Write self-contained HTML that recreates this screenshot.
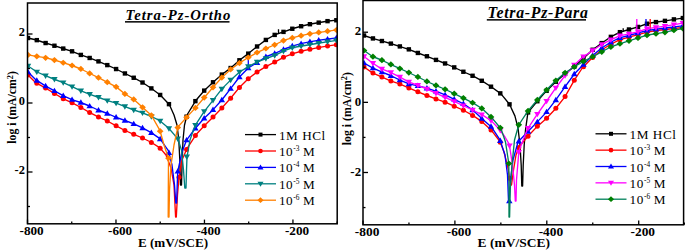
<!DOCTYPE html>
<html><head><meta charset="utf-8"><style>
html,body{margin:0;padding:0;background:#fff;}
body{width:685px;height:251px;overflow:hidden;font-family:"Liberation Serif",serif;}
svg{display:block;}
</style></head><body>
<svg width="685" height="251" viewBox="0 0 685 251">
<clipPath id="clipL"><rect x="27.5" y="3.0" width="309.7" height="220.8"/></clipPath>
<g clip-path="url(#clipL)">
<path d="M28.00 38.00 L36.40 40.00 L45.50 43.00 L54.30 45.70 L63.00 48.50 L72.00 51.30 L80.80 54.90 L89.50 57.90 L98.30 61.30 L107.30 65.10 L116.00 69.00 L125.00 73.50 L134.00 77.90 L142.50 82.50 L151.50 88.50 L160.20 95.00 L169.30 104.50 L174.00 115.00 L177.00 125.00 L178.80 140.00 L179.80 160.00 L180.50 185.00 L181.50 185.00 L182.20 160.00 L183.00 140.00 L184.50 125.00 L187.00 115.00 L195.60 100.80 L204.30 90.50 L213.30 82.00 L221.90 74.50 L230.80 67.90 L239.40 60.30 L248.30 53.60 L257.40 46.20 L266.30 39.60 L275.40 34.50 L284.40 31.60 L293.00 28.50 L302.00 26.00 L310.80 24.00 L319.50 22.50 L328.40 21.00 L337.00 20.20" fill="none" stroke="#000000" stroke-width="1.35" stroke-linejoin="round"/>
<path d="M278.5 33.2L278.5 29.3" stroke="#000000" stroke-width="1.3"/>
<rect x="25.80" y="35.80" width="4.40" height="4.40" fill="#000000"/>
<rect x="34.61" y="37.94" width="4.40" height="4.40" fill="#000000"/>
<rect x="43.42" y="40.84" width="4.40" height="4.40" fill="#000000"/>
<rect x="52.23" y="43.54" width="4.40" height="4.40" fill="#000000"/>
<rect x="61.04" y="46.37" width="4.40" height="4.40" fill="#000000"/>
<rect x="69.85" y="49.12" width="4.40" height="4.40" fill="#000000"/>
<rect x="78.66" y="52.72" width="4.40" height="4.40" fill="#000000"/>
<rect x="87.47" y="55.77" width="4.40" height="4.40" fill="#000000"/>
<rect x="96.28" y="59.18" width="4.40" height="4.40" fill="#000000"/>
<rect x="105.09" y="62.90" width="4.40" height="4.40" fill="#000000"/>
<rect x="113.90" y="66.85" width="4.40" height="4.40" fill="#000000"/>
<rect x="122.71" y="71.26" width="4.40" height="4.40" fill="#000000"/>
<rect x="131.52" y="75.56" width="4.40" height="4.40" fill="#000000"/>
<rect x="140.33" y="80.32" width="4.40" height="4.40" fill="#000000"/>
<rect x="149.14" y="86.19" width="4.40" height="4.40" fill="#000000"/>
<rect x="157.95" y="92.76" width="4.40" height="4.40" fill="#000000"/>
<rect x="166.76" y="101.95" width="4.40" height="4.40" fill="#000000"/>
<rect x="184.38" y="114.48" width="4.40" height="4.40" fill="#000000"/>
<rect x="193.19" y="98.95" width="4.40" height="4.40" fill="#000000"/>
<rect x="202.00" y="88.42" width="4.40" height="4.40" fill="#000000"/>
<rect x="210.81" y="80.07" width="4.40" height="4.40" fill="#000000"/>
<rect x="219.62" y="72.37" width="4.40" height="4.40" fill="#000000"/>
<rect x="228.43" y="65.83" width="4.40" height="4.40" fill="#000000"/>
<rect x="237.24" y="58.07" width="4.40" height="4.40" fill="#000000"/>
<rect x="246.05" y="51.44" width="4.40" height="4.40" fill="#000000"/>
<rect x="254.86" y="44.28" width="4.40" height="4.40" fill="#000000"/>
<rect x="263.67" y="37.72" width="4.40" height="4.40" fill="#000000"/>
<rect x="272.48" y="32.70" width="4.40" height="4.40" fill="#000000"/>
<rect x="281.29" y="29.69" width="4.40" height="4.40" fill="#000000"/>
<rect x="290.10" y="26.55" width="4.40" height="4.40" fill="#000000"/>
<rect x="298.91" y="24.05" width="4.40" height="4.40" fill="#000000"/>
<rect x="307.72" y="22.00" width="4.40" height="4.40" fill="#000000"/>
<rect x="316.53" y="20.43" width="4.40" height="4.40" fill="#000000"/>
<rect x="325.34" y="18.94" width="4.40" height="4.40" fill="#000000"/>
<rect x="334.15" y="18.06" width="4.40" height="4.40" fill="#000000"/>
<path d="M28.00 75.00 L36.00 82.90 L45.30 87.90 L54.50 93.50 L63.50 98.80 L72.20 102.90 L81.00 107.50 L89.40 112.30 L98.20 116.80 L107.30 121.00 L116.20 125.90 L125.00 130.50 L133.90 134.40 L142.50 138.00 L151.50 142.50 L159.90 147.90 L166.00 155.00 L171.00 168.00 L174.00 185.00 L175.60 217.00 L176.30 217.00 L177.50 195.00 L179.00 177.30 L182.00 160.00 L186.80 148.90 L195.90 134.80 L204.50 125.50 L213.40 116.70 L222.10 107.70 L231.00 97.80 L239.90 86.90 L248.50 78.50 L257.30 71.90 L265.80 66.60 L275.20 61.80 L284.40 56.80 L293.00 53.60 L302.00 51.00 L310.80 49.10 L319.50 47.30 L328.40 45.90 L337.00 44.60" fill="none" stroke="#ff0000" stroke-width="1.35" stroke-linejoin="round"/>
<circle cx="179.00" cy="177.30" r="2.50" fill="#ff0000"/>
<circle cx="28.00" cy="75.00" r="2.50" fill="#ff0000"/>
<circle cx="36.81" cy="83.34" r="2.50" fill="#ff0000"/>
<circle cx="45.62" cy="88.09" r="2.50" fill="#ff0000"/>
<circle cx="54.43" cy="93.46" r="2.50" fill="#ff0000"/>
<circle cx="63.24" cy="98.65" r="2.50" fill="#ff0000"/>
<circle cx="72.05" cy="102.83" r="2.50" fill="#ff0000"/>
<circle cx="80.86" cy="107.43" r="2.50" fill="#ff0000"/>
<circle cx="89.67" cy="112.44" r="2.50" fill="#ff0000"/>
<circle cx="98.48" cy="116.93" r="2.50" fill="#ff0000"/>
<circle cx="107.29" cy="121.00" r="2.50" fill="#ff0000"/>
<circle cx="116.10" cy="125.84" r="2.50" fill="#ff0000"/>
<circle cx="124.91" cy="130.45" r="2.50" fill="#ff0000"/>
<circle cx="133.72" cy="134.32" r="2.50" fill="#ff0000"/>
<circle cx="142.53" cy="138.01" r="2.50" fill="#ff0000"/>
<circle cx="151.34" cy="142.42" r="2.50" fill="#ff0000"/>
<circle cx="160.15" cy="148.19" r="2.50" fill="#ff0000"/>
<circle cx="186.58" cy="149.41" r="2.50" fill="#ff0000"/>
<circle cx="195.39" cy="135.59" r="2.50" fill="#ff0000"/>
<circle cx="204.20" cy="125.82" r="2.50" fill="#ff0000"/>
<circle cx="213.01" cy="117.09" r="2.50" fill="#ff0000"/>
<circle cx="221.82" cy="107.99" r="2.50" fill="#ff0000"/>
<circle cx="230.63" cy="98.21" r="2.50" fill="#ff0000"/>
<circle cx="239.44" cy="87.46" r="2.50" fill="#ff0000"/>
<circle cx="248.25" cy="78.74" r="2.50" fill="#ff0000"/>
<circle cx="257.06" cy="72.08" r="2.50" fill="#ff0000"/>
<circle cx="265.87" cy="66.56" r="2.50" fill="#ff0000"/>
<circle cx="274.68" cy="62.07" r="2.50" fill="#ff0000"/>
<circle cx="283.49" cy="57.29" r="2.50" fill="#ff0000"/>
<circle cx="292.30" cy="53.86" r="2.50" fill="#ff0000"/>
<circle cx="301.11" cy="51.26" r="2.50" fill="#ff0000"/>
<circle cx="309.92" cy="49.29" r="2.50" fill="#ff0000"/>
<circle cx="318.73" cy="47.46" r="2.50" fill="#ff0000"/>
<circle cx="327.54" cy="46.04" r="2.50" fill="#ff0000"/>
<circle cx="336.35" cy="44.70" r="2.50" fill="#ff0000"/>
<path d="M28.00 72.00 L36.00 79.90 L45.30 85.90 L54.50 90.90 L63.50 95.90 L72.50 99.80 L80.70 102.50 L89.50 106.00 L98.00 110.00 L107.40 113.50 L116.20 117.30 L125.00 120.50 L133.90 123.90 L142.50 127.90 L151.20 132.60 L159.90 138.60 L168.50 150.90 L172.00 165.00 L174.50 185.00 L175.80 203.00 L176.60 203.00 L177.70 171.70 L182.00 152.00 L186.70 139.80 L195.20 128.50 L203.90 118.50 L212.90 109.90 L221.80 100.00 L230.80 88.40 L239.40 77.00 L248.30 68.00 L257.30 62.50 L266.30 56.50 L275.60 53.20 L284.40 49.00 L293.00 45.80 L302.00 43.40 L310.80 41.60 L319.50 40.10 L328.40 39.00 L337.00 37.90" fill="none" stroke="#0000ff" stroke-width="1.35" stroke-linejoin="round"/>
<path d="M248.3 68L248.3 57.5" stroke="#0000ff" stroke-width="1.3"/>
<path d="M28.00 68.80L31.20 74.24L24.80 74.24Z" fill="#0000ff"/>
<path d="M36.81 77.22L40.01 82.66L33.61 82.66Z" fill="#0000ff"/>
<path d="M45.62 82.87L48.82 88.31L42.42 88.31Z" fill="#0000ff"/>
<path d="M54.43 87.66L57.63 93.10L51.23 93.10Z" fill="#0000ff"/>
<path d="M63.24 92.56L66.44 98.00L60.04 98.00Z" fill="#0000ff"/>
<path d="M72.05 96.41L75.25 101.84L68.85 101.84Z" fill="#0000ff"/>
<path d="M80.86 99.36L84.06 104.80L77.66 104.80Z" fill="#0000ff"/>
<path d="M89.67 102.88L92.87 108.32L86.47 108.32Z" fill="#0000ff"/>
<path d="M98.48 106.98L101.68 112.42L95.28 112.42Z" fill="#0000ff"/>
<path d="M107.29 110.26L110.49 115.70L104.09 115.70Z" fill="#0000ff"/>
<path d="M116.10 114.06L119.30 119.50L112.90 119.50Z" fill="#0000ff"/>
<path d="M124.91 117.27L128.11 122.71L121.71 122.71Z" fill="#0000ff"/>
<path d="M133.72 120.63L136.92 126.07L130.52 126.07Z" fill="#0000ff"/>
<path d="M142.53 124.72L145.73 130.16L139.33 130.16Z" fill="#0000ff"/>
<path d="M151.34 129.50L154.54 134.94L148.14 134.94Z" fill="#0000ff"/>
<path d="M160.15 135.76L163.35 141.20L156.95 141.20Z" fill="#0000ff"/>
<path d="M168.96 149.55L172.16 154.99L165.76 154.99Z" fill="#0000ff"/>
<path d="M177.77 168.18L180.97 173.62L174.57 173.62Z" fill="#0000ff"/>
<path d="M186.58 136.91L189.78 142.35L183.38 142.35Z" fill="#0000ff"/>
<path d="M195.39 125.08L198.59 130.52L192.19 130.52Z" fill="#0000ff"/>
<path d="M204.20 115.01L207.40 120.45L201.00 120.45Z" fill="#0000ff"/>
<path d="M213.01 106.58L216.21 112.02L209.81 112.02Z" fill="#0000ff"/>
<path d="M221.82 96.77L225.02 102.21L218.62 102.21Z" fill="#0000ff"/>
<path d="M230.63 85.42L233.83 90.86L227.43 90.86Z" fill="#0000ff"/>
<path d="M239.44 73.76L242.64 79.20L236.24 79.20Z" fill="#0000ff"/>
<path d="M248.25 64.85L251.45 70.29L245.05 70.29Z" fill="#0000ff"/>
<path d="M257.06 59.45L260.26 64.89L253.86 64.89Z" fill="#0000ff"/>
<path d="M265.87 53.59L269.07 59.03L262.67 59.03Z" fill="#0000ff"/>
<path d="M274.68 50.33L277.88 55.77L271.48 55.77Z" fill="#0000ff"/>
<path d="M283.49 46.23L286.69 51.67L280.29 51.67Z" fill="#0000ff"/>
<path d="M292.30 42.86L295.50 48.30L289.10 48.30Z" fill="#0000ff"/>
<path d="M301.11 40.44L304.31 45.88L297.91 45.88Z" fill="#0000ff"/>
<path d="M309.92 38.58L313.12 44.02L306.72 44.02Z" fill="#0000ff"/>
<path d="M318.73 37.03L321.93 42.47L315.53 42.47Z" fill="#0000ff"/>
<path d="M327.54 35.91L330.74 41.35L324.34 41.35Z" fill="#0000ff"/>
<path d="M336.35 34.78L339.55 40.22L333.15 40.22Z" fill="#0000ff"/>
<path d="M28.00 66.00 L37.00 72.00 L45.90 75.90 L54.90 79.50 L63.90 82.90 L72.60 86.90 L81.00 90.90 L89.90 94.30 L98.90 97.50 L107.50 100.70 L116.20 103.20 L125.00 106.60 L133.90 110.00 L142.50 112.90 L151.50 116.50 L159.80 120.70 L168.50 128.00 L177.90 138.90 L181.50 150.00 L183.50 170.00 L184.80 188.00 L186.00 188.00 L186.50 170.00 L187.00 157.00 L190.00 140.00 L194.90 125.90 L203.90 111.90 L212.60 100.80 L221.90 88.90 L230.80 79.90 L239.30 72.20 L248.20 66.60 L257.40 61.90 L266.00 58.50 L275.50 55.20 L284.40 50.70 L293.00 47.50 L302.00 46.00 L310.80 44.50 L319.50 43.00 L328.40 41.60 L337.00 40.30" fill="none" stroke="#008080" stroke-width="1.35" stroke-linejoin="round"/>
<path d="M186.80 160.00L190.00 154.56L183.60 154.56Z" fill="#008080"/>
<path d="M28.00 69.20L31.20 63.76L24.80 63.76Z" fill="#008080"/>
<path d="M36.81 75.07L40.01 69.63L33.61 69.63Z" fill="#008080"/>
<path d="M45.62 78.98L48.82 73.54L42.42 73.54Z" fill="#008080"/>
<path d="M54.43 82.51L57.63 77.07L51.23 77.07Z" fill="#008080"/>
<path d="M63.24 85.85L66.44 80.41L60.04 80.41Z" fill="#008080"/>
<path d="M72.05 89.85L75.25 84.41L68.85 84.41Z" fill="#008080"/>
<path d="M80.86 94.03L84.06 88.59L77.66 88.59Z" fill="#008080"/>
<path d="M89.67 97.41L92.87 91.97L86.47 91.97Z" fill="#008080"/>
<path d="M98.48 100.55L101.68 95.11L95.28 95.11Z" fill="#008080"/>
<path d="M107.29 103.82L110.49 98.38L104.09 98.38Z" fill="#008080"/>
<path d="M116.10 106.37L119.30 100.93L112.90 100.93Z" fill="#008080"/>
<path d="M124.91 109.77L128.11 104.33L121.71 104.33Z" fill="#008080"/>
<path d="M133.72 113.13L136.92 107.69L130.52 107.69Z" fill="#008080"/>
<path d="M142.53 116.11L145.73 110.67L139.33 110.67Z" fill="#008080"/>
<path d="M151.34 119.64L154.54 114.20L148.14 114.20Z" fill="#008080"/>
<path d="M160.15 124.19L163.35 118.75L156.95 118.75Z" fill="#008080"/>
<path d="M168.96 131.73L172.16 126.29L165.76 126.29Z" fill="#008080"/>
<path d="M177.77 141.95L180.97 136.51L174.57 136.51Z" fill="#008080"/>
<path d="M195.39 128.34L198.59 122.90L192.19 122.90Z" fill="#008080"/>
<path d="M204.20 114.72L207.40 109.28L201.00 109.28Z" fill="#008080"/>
<path d="M213.01 103.48L216.21 98.04L209.81 98.04Z" fill="#008080"/>
<path d="M221.82 92.20L225.02 86.76L218.62 86.76Z" fill="#008080"/>
<path d="M230.63 83.27L233.83 77.83L227.43 77.83Z" fill="#008080"/>
<path d="M239.44 75.31L242.64 69.87L236.24 69.87Z" fill="#008080"/>
<path d="M248.25 69.77L251.45 64.33L245.05 64.33Z" fill="#008080"/>
<path d="M257.06 65.27L260.26 59.83L253.86 59.83Z" fill="#008080"/>
<path d="M265.87 61.75L269.07 56.31L262.67 56.31Z" fill="#008080"/>
<path d="M274.68 58.68L277.88 53.24L271.48 53.24Z" fill="#008080"/>
<path d="M283.49 54.36L286.69 48.92L280.29 48.92Z" fill="#008080"/>
<path d="M292.30 50.96L295.50 45.52L289.10 45.52Z" fill="#008080"/>
<path d="M301.11 49.35L304.31 43.91L297.91 43.91Z" fill="#008080"/>
<path d="M309.92 47.85L313.12 42.41L306.72 42.41Z" fill="#008080"/>
<path d="M318.73 46.33L321.93 40.89L315.53 40.89Z" fill="#008080"/>
<path d="M327.54 44.94L330.74 39.50L324.34 39.50Z" fill="#008080"/>
<path d="M336.35 43.60L339.55 38.16L333.15 38.16Z" fill="#008080"/>
<path d="M28.00 54.90 L36.40 56.30 L45.30 57.70 L54.30 60.00 L63.00 62.70 L72.00 65.50 L81.00 69.00 L89.90 73.50 L98.90 77.90 L107.50 82.30 L116.20 86.90 L125.00 94.00 L133.90 99.50 L142.50 107.30 L151.50 115.50 L159.90 130.30 L164.00 145.00 L168.50 158.20 L168.30 190.00 L168.20 217.00 L169.00 217.00 L169.50 190.00 L171.00 165.00 L174.00 145.00 L177.90 127.00 L187.00 116.90 L195.90 107.40 L204.30 97.50 L213.30 87.00 L221.90 77.50 L230.80 69.20 L239.70 62.90 L248.60 57.30 L257.40 52.30 L266.30 48.30 L275.40 44.50 L284.40 40.10 L293.00 37.70 L302.00 35.40 L310.80 33.70 L319.50 32.30 L328.40 31.10 L337.00 29.90" fill="none" stroke="#ff8000" stroke-width="1.35" stroke-linejoin="round"/>
<path d="M168.50 155.10L171.85 158.20L168.50 161.30L165.15 158.20Z" fill="#ff8000"/>
<path d="M28.00 51.80L31.35 54.90L28.00 58.00L24.65 54.90Z" fill="#ff8000"/>
<path d="M36.81 53.26L40.16 56.36L36.81 59.46L33.46 56.36Z" fill="#ff8000"/>
<path d="M45.62 54.68L48.97 57.78L45.62 60.88L42.27 57.78Z" fill="#ff8000"/>
<path d="M54.43 56.94L57.78 60.04L54.43 63.14L51.08 60.04Z" fill="#ff8000"/>
<path d="M63.24 59.67L66.59 62.77L63.24 65.87L59.89 62.77Z" fill="#ff8000"/>
<path d="M72.05 62.42L75.40 65.52L72.05 68.62L68.70 65.52Z" fill="#ff8000"/>
<path d="M80.86 65.85L84.21 68.95L80.86 72.05L77.51 68.95Z" fill="#ff8000"/>
<path d="M89.67 70.28L93.02 73.38L89.67 76.48L86.32 73.38Z" fill="#ff8000"/>
<path d="M98.48 74.59L101.83 77.69L98.48 80.79L95.13 77.69Z" fill="#ff8000"/>
<path d="M107.29 79.09L110.64 82.19L107.29 85.29L103.94 82.19Z" fill="#ff8000"/>
<path d="M116.10 83.75L119.45 86.85L116.10 89.95L112.75 86.85Z" fill="#ff8000"/>
<path d="M124.91 90.83L128.26 93.93L124.91 97.03L121.56 93.93Z" fill="#ff8000"/>
<path d="M133.72 96.29L137.07 99.39L133.72 102.49L130.37 99.39Z" fill="#ff8000"/>
<path d="M142.53 104.23L145.88 107.33L142.53 110.43L139.18 107.33Z" fill="#ff8000"/>
<path d="M151.34 112.25L154.69 115.35L151.34 118.45L147.99 115.35Z" fill="#ff8000"/>
<path d="M160.15 128.10L163.50 131.20L160.15 134.30L156.80 131.20Z" fill="#ff8000"/>
<path d="M177.77 124.50L181.12 127.60L177.77 130.70L174.42 127.60Z" fill="#ff8000"/>
<path d="M186.58 114.27L189.93 117.37L186.58 120.47L183.23 117.37Z" fill="#ff8000"/>
<path d="M195.39 104.84L198.74 107.94L195.39 111.04L192.04 107.94Z" fill="#ff8000"/>
<path d="M204.20 94.52L207.55 97.62L204.20 100.72L200.85 97.62Z" fill="#ff8000"/>
<path d="M213.01 84.24L216.36 87.34L213.01 90.44L209.66 87.34Z" fill="#ff8000"/>
<path d="M221.82 74.49L225.17 77.59L221.82 80.69L218.47 77.59Z" fill="#ff8000"/>
<path d="M230.63 66.26L233.98 69.36L230.63 72.46L227.28 69.36Z" fill="#ff8000"/>
<path d="M239.44 59.98L242.79 63.08L239.44 66.18L236.09 63.08Z" fill="#ff8000"/>
<path d="M248.25 54.42L251.60 57.52L248.25 60.62L244.90 57.52Z" fill="#ff8000"/>
<path d="M257.06 49.39L260.41 52.49L257.06 55.59L253.71 52.49Z" fill="#ff8000"/>
<path d="M265.87 45.39L269.22 48.49L265.87 51.59L262.52 48.49Z" fill="#ff8000"/>
<path d="M274.68 41.70L278.03 44.80L274.68 47.90L271.33 44.80Z" fill="#ff8000"/>
<path d="M283.49 37.44L286.84 40.54L283.49 43.64L280.14 40.54Z" fill="#ff8000"/>
<path d="M292.30 34.80L295.65 37.90L292.30 41.00L288.95 37.90Z" fill="#ff8000"/>
<path d="M301.11 32.53L304.46 35.63L301.11 38.73L297.76 35.63Z" fill="#ff8000"/>
<path d="M309.92 30.77L313.27 33.87L309.92 36.97L306.57 33.87Z" fill="#ff8000"/>
<path d="M318.73 29.32L322.08 32.42L318.73 35.52L315.38 32.42Z" fill="#ff8000"/>
<path d="M327.54 28.12L330.89 31.22L327.54 34.32L324.19 31.22Z" fill="#ff8000"/>
<path d="M336.35 26.89L339.70 29.99L336.35 33.09L333.00 29.99Z" fill="#ff8000"/>
</g>
<rect x="27.5" y="3.0" width="309.70" height="220.80" fill="none" stroke="#000" stroke-width="1.5"/>
<path d="M27.50 223.80V219.60" stroke="#000" stroke-width="1.3"/>
<path d="M71.74 223.80V221.60" stroke="#000" stroke-width="1.3"/>
<path d="M115.98 223.80V219.60" stroke="#000" stroke-width="1.3"/>
<path d="M160.22 223.80V221.60" stroke="#000" stroke-width="1.3"/>
<path d="M204.46 223.80V219.60" stroke="#000" stroke-width="1.3"/>
<path d="M248.70 223.80V221.60" stroke="#000" stroke-width="1.3"/>
<path d="M292.94 223.80V219.60" stroke="#000" stroke-width="1.3"/>
<path d="M337.18 223.80V221.60" stroke="#000" stroke-width="1.3"/>
<path d="M27.50 206.50H30.00" stroke="#000" stroke-width="1.3"/>
<path d="M27.50 172.00H32.50" stroke="#000" stroke-width="1.3"/>
<path d="M27.50 137.50H30.00" stroke="#000" stroke-width="1.3"/>
<path d="M27.50 103.00H32.50" stroke="#000" stroke-width="1.3"/>
<path d="M27.50 68.50H30.00" stroke="#000" stroke-width="1.3"/>
<path d="M27.50 34.00H32.50" stroke="#000" stroke-width="1.3"/>
<clipPath id="clipR"><rect x="363.0" y="0.5" width="320.6" height="224.3"/></clipPath>
<g clip-path="url(#clipR)">
<path d="M364.00 35.50 L372.50 38.30 L381.50 40.90 L390.50 43.50 L399.50 46.30 L408.70 49.30 L418.00 53.00 L427.00 56.30 L436.00 59.90 L445.20 63.50 L454.50 67.50 L463.90 72.00 L472.90 75.90 L482.00 80.90 L491.50 87.00 L501.00 93.90 L509.50 104.30 L514.90 115.90 L518.00 128.00 L520.00 145.00 L521.20 165.00 L521.80 186.00 L522.60 186.00 L523.20 165.00 L524.20 145.00 L525.50 130.00 L527.90 112.60 L537.00 101.60 L546.00 91.40 L555.30 82.20 L564.50 74.30 L573.90 67.00 L583.00 58.80 L592.30 50.00 L601.20 43.50 L610.20 37.20 L619.50 32.30 L628.90 29.50 L638.20 26.90 L647.60 23.50 L656.50 22.00 L665.40 20.80 L674.40 19.30 L684.00 17.90" fill="none" stroke="#000000" stroke-width="1.35" stroke-linejoin="round"/>
<path d="M623.2 31.8L623.2 28.3" stroke="#000000" stroke-width="1.3"/>
<rect x="361.80" y="33.30" width="4.40" height="4.40" fill="#000000"/>
<rect x="370.75" y="36.23" width="4.40" height="4.40" fill="#000000"/>
<rect x="379.70" y="38.82" width="4.40" height="4.40" fill="#000000"/>
<rect x="388.67" y="41.41" width="4.40" height="4.40" fill="#000000"/>
<rect x="397.65" y="44.21" width="4.40" height="4.40" fill="#000000"/>
<rect x="406.65" y="47.16" width="4.40" height="4.40" fill="#000000"/>
<rect x="415.67" y="50.75" width="4.40" height="4.40" fill="#000000"/>
<rect x="424.71" y="54.07" width="4.40" height="4.40" fill="#000000"/>
<rect x="433.79" y="57.70" width="4.40" height="4.40" fill="#000000"/>
<rect x="442.89" y="61.26" width="4.40" height="4.40" fill="#000000"/>
<rect x="452.02" y="65.18" width="4.40" height="4.40" fill="#000000"/>
<rect x="461.18" y="69.55" width="4.40" height="4.40" fill="#000000"/>
<rect x="470.37" y="73.56" width="4.40" height="4.40" fill="#000000"/>
<rect x="479.58" y="78.58" width="4.40" height="4.40" fill="#000000"/>
<rect x="488.81" y="84.49" width="4.40" height="4.40" fill="#000000"/>
<rect x="498.06" y="91.16" width="4.40" height="4.40" fill="#000000"/>
<rect x="507.32" y="102.14" width="4.40" height="4.40" fill="#000000"/>
<rect x="525.86" y="110.21" width="4.40" height="4.40" fill="#000000"/>
<rect x="535.13" y="99.03" width="4.40" height="4.40" fill="#000000"/>
<rect x="544.39" y="88.62" width="4.40" height="4.40" fill="#000000"/>
<rect x="553.64" y="79.54" width="4.40" height="4.40" fill="#000000"/>
<rect x="562.87" y="71.66" width="4.40" height="4.40" fill="#000000"/>
<rect x="572.08" y="64.46" width="4.40" height="4.40" fill="#000000"/>
<rect x="581.27" y="56.16" width="4.40" height="4.40" fill="#000000"/>
<rect x="590.43" y="47.56" width="4.40" height="4.40" fill="#000000"/>
<rect x="599.56" y="40.91" width="4.40" height="4.40" fill="#000000"/>
<rect x="608.66" y="34.65" width="4.40" height="4.40" fill="#000000"/>
<rect x="617.74" y="29.97" width="4.40" height="4.40" fill="#000000"/>
<rect x="626.78" y="27.28" width="4.40" height="4.40" fill="#000000"/>
<rect x="635.80" y="24.75" width="4.40" height="4.40" fill="#000000"/>
<rect x="644.80" y="21.52" width="4.40" height="4.40" fill="#000000"/>
<rect x="653.78" y="19.89" width="4.40" height="4.40" fill="#000000"/>
<rect x="662.75" y="18.66" width="4.40" height="4.40" fill="#000000"/>
<rect x="671.70" y="17.18" width="4.40" height="4.40" fill="#000000"/>
<rect x="680.65" y="15.87" width="4.40" height="4.40" fill="#000000"/>
<path d="M364.00 67.00 L372.50 72.90 L381.50 76.90 L390.50 80.90 L399.50 83.90 L408.70 87.90 L418.00 91.90 L427.00 95.50 L436.40 99.10 L445.70 102.40 L454.70 106.40 L463.90 110.50 L473.50 115.90 L482.30 121.90 L491.40 130.30 L500.00 141.50 L504.00 152.00 L508.00 168.00 L510.50 185.00 L511.50 185.00 L513.50 170.00 L516.00 155.00 L519.00 146.90 L528.60 135.50 L537.30 126.40 L546.40 118.50 L555.30 109.00 L564.90 96.80 L574.50 79.90 L582.30 68.00 L592.00 58.00 L601.00 50.50 L610.20 44.50 L619.50 39.80 L628.90 37.20 L638.20 34.60 L647.40 32.20 L656.50 30.50 L665.40 29.50 L674.40 28.50 L684.00 27.40" fill="none" stroke="#ff0000" stroke-width="1.35" stroke-linejoin="round"/>
<path d="M650.2 30.2L650.2 19.0" stroke="#ff0000" stroke-width="1.3"/>
<circle cx="364.00" cy="67.00" r="2.50" fill="#ff0000"/>
<circle cx="372.95" cy="73.10" r="2.50" fill="#ff0000"/>
<circle cx="381.90" cy="77.08" r="2.50" fill="#ff0000"/>
<circle cx="390.87" cy="81.02" r="2.50" fill="#ff0000"/>
<circle cx="399.85" cy="84.05" r="2.50" fill="#ff0000"/>
<circle cx="408.85" cy="87.96" r="2.50" fill="#ff0000"/>
<circle cx="417.87" cy="91.84" r="2.50" fill="#ff0000"/>
<circle cx="426.91" cy="95.47" r="2.50" fill="#ff0000"/>
<circle cx="435.99" cy="98.94" r="2.50" fill="#ff0000"/>
<circle cx="445.09" cy="102.18" r="2.50" fill="#ff0000"/>
<circle cx="454.22" cy="106.19" r="2.50" fill="#ff0000"/>
<circle cx="463.38" cy="110.27" r="2.50" fill="#ff0000"/>
<circle cx="472.57" cy="115.38" r="2.50" fill="#ff0000"/>
<circle cx="481.78" cy="121.55" r="2.50" fill="#ff0000"/>
<circle cx="491.01" cy="129.94" r="2.50" fill="#ff0000"/>
<circle cx="500.26" cy="142.18" r="2.50" fill="#ff0000"/>
<circle cx="509.52" cy="178.34" r="2.50" fill="#ff0000"/>
<circle cx="518.79" cy="147.47" r="2.50" fill="#ff0000"/>
<circle cx="528.06" cy="136.14" r="2.50" fill="#ff0000"/>
<circle cx="537.33" cy="126.37" r="2.50" fill="#ff0000"/>
<circle cx="546.59" cy="118.30" r="2.50" fill="#ff0000"/>
<circle cx="555.84" cy="108.32" r="2.50" fill="#ff0000"/>
<circle cx="565.07" cy="96.50" r="2.50" fill="#ff0000"/>
<circle cx="574.28" cy="80.29" r="2.50" fill="#ff0000"/>
<circle cx="583.47" cy="66.80" r="2.50" fill="#ff0000"/>
<circle cx="592.63" cy="57.48" r="2.50" fill="#ff0000"/>
<circle cx="601.76" cy="50.00" r="2.50" fill="#ff0000"/>
<circle cx="610.86" cy="44.17" r="2.50" fill="#ff0000"/>
<circle cx="619.94" cy="39.68" r="2.50" fill="#ff0000"/>
<circle cx="628.98" cy="37.18" r="2.50" fill="#ff0000"/>
<circle cx="638.00" cy="34.65" r="2.50" fill="#ff0000"/>
<circle cx="647.00" cy="32.30" r="2.50" fill="#ff0000"/>
<circle cx="655.98" cy="30.60" r="2.50" fill="#ff0000"/>
<circle cx="664.95" cy="29.55" r="2.50" fill="#ff0000"/>
<circle cx="673.90" cy="28.56" r="2.50" fill="#ff0000"/>
<circle cx="682.85" cy="27.53" r="2.50" fill="#ff0000"/>
<path d="M364.00 63.00 L372.50 67.90 L381.50 71.90 L390.50 75.50 L399.50 79.90 L408.80 83.90 L418.00 85.80 L427.00 88.20 L436.40 91.30 L445.80 95.20 L454.80 99.60 L463.90 104.00 L473.30 110.50 L482.30 118.90 L491.40 126.90 L500.00 139.90 L505.00 155.00 L507.50 175.00 L508.50 201.00 L509.30 201.00 L510.50 180.00 L513.00 160.00 L518.00 142.00 L527.50 132.00 L537.30 121.90 L545.80 112.90 L555.30 100.70 L564.80 87.20 L574.30 74.00 L582.70 65.20 L592.00 56.00 L601.00 48.50 L610.20 42.50 L619.50 37.90 L628.90 35.50 L638.20 32.90 L647.40 30.50 L656.50 29.20 L665.40 28.00 L674.40 26.80 L684.00 25.60" fill="none" stroke="#0000ff" stroke-width="1.35" stroke-linejoin="round"/>
<path d="M646.0 30.6L646.0 19.0" stroke="#0000ff" stroke-width="1.3"/>
<path d="M509.30 197.80L512.50 203.24L506.10 203.24Z" fill="#0000ff"/>
<path d="M364.00 59.80L367.20 65.24L360.80 65.24Z" fill="#0000ff"/>
<path d="M372.95 64.90L376.15 70.34L369.75 70.34Z" fill="#0000ff"/>
<path d="M381.90 68.86L385.10 74.30L378.70 74.30Z" fill="#0000ff"/>
<path d="M390.87 72.48L394.07 77.92L387.67 77.92Z" fill="#0000ff"/>
<path d="M399.85 76.85L403.05 82.29L396.65 82.29Z" fill="#0000ff"/>
<path d="M408.85 80.71L412.05 86.15L405.65 86.15Z" fill="#0000ff"/>
<path d="M417.87 82.57L421.07 88.01L414.67 88.01Z" fill="#0000ff"/>
<path d="M426.91 84.98L430.11 90.42L423.71 90.42Z" fill="#0000ff"/>
<path d="M435.99 87.96L439.19 93.40L432.79 93.40Z" fill="#0000ff"/>
<path d="M445.09 91.71L448.29 97.15L441.89 97.15Z" fill="#0000ff"/>
<path d="M454.22 96.12L457.42 101.56L451.02 101.56Z" fill="#0000ff"/>
<path d="M463.38 100.55L466.58 105.99L460.18 105.99Z" fill="#0000ff"/>
<path d="M472.57 106.79L475.77 112.23L469.37 112.23Z" fill="#0000ff"/>
<path d="M481.78 115.21L484.98 120.65L478.58 120.65Z" fill="#0000ff"/>
<path d="M491.01 123.36L494.21 128.80L487.81 128.80Z" fill="#0000ff"/>
<path d="M500.26 137.48L503.46 142.92L497.06 142.92Z" fill="#0000ff"/>
<path d="M518.79 137.97L521.99 143.41L515.59 143.41Z" fill="#0000ff"/>
<path d="M528.06 128.22L531.26 133.66L524.86 133.66Z" fill="#0000ff"/>
<path d="M537.33 118.67L540.53 124.11L534.13 124.11Z" fill="#0000ff"/>
<path d="M546.59 108.68L549.79 114.12L543.39 114.12Z" fill="#0000ff"/>
<path d="M555.84 96.73L559.04 102.17L552.64 102.17Z" fill="#0000ff"/>
<path d="M565.07 83.62L568.27 89.06L561.87 89.06Z" fill="#0000ff"/>
<path d="M574.28 70.83L577.48 76.27L571.08 76.27Z" fill="#0000ff"/>
<path d="M583.47 61.24L586.67 66.68L580.27 66.68Z" fill="#0000ff"/>
<path d="M592.63 52.28L595.83 57.72L589.43 57.72Z" fill="#0000ff"/>
<path d="M601.76 44.80L604.96 50.24L598.56 50.24Z" fill="#0000ff"/>
<path d="M610.86 38.97L614.06 44.41L607.66 44.41Z" fill="#0000ff"/>
<path d="M619.94 34.59L623.14 40.03L616.74 40.03Z" fill="#0000ff"/>
<path d="M628.98 32.28L632.18 37.72L625.78 37.72Z" fill="#0000ff"/>
<path d="M638.00 29.75L641.20 35.19L634.80 35.19Z" fill="#0000ff"/>
<path d="M647.00 27.40L650.20 32.84L643.80 32.84Z" fill="#0000ff"/>
<path d="M655.98 26.07L659.18 31.51L652.78 31.51Z" fill="#0000ff"/>
<path d="M664.95 24.86L668.15 30.30L661.75 30.30Z" fill="#0000ff"/>
<path d="M673.90 23.67L677.10 29.11L670.70 29.11Z" fill="#0000ff"/>
<path d="M682.85 22.54L686.05 27.98L679.65 27.98Z" fill="#0000ff"/>
<path d="M364.00 56.50 L372.50 63.00 L381.50 68.90 L390.50 72.30 L399.50 76.90 L408.60 81.80 L418.00 85.40 L427.00 89.10 L436.40 93.40 L445.60 97.60 L454.70 101.70 L463.90 106.00 L473.50 110.50 L482.30 114.90 L491.40 120.90 L500.00 130.00 L505.00 137.00 L509.30 144.30 L512.50 165.00 L514.50 185.00 L515.30 201.00 L516.00 201.00 L516.50 180.00 L518.90 150.90 L527.50 129.00 L536.50 115.30 L546.00 102.00 L555.10 88.90 L564.30 76.50 L573.80 65.50 L582.30 57.40 L592.00 51.00 L601.20 44.80 L610.10 40.20 L619.50 35.90 L628.90 33.90 L637.50 31.90 L647.30 28.70 L656.50 27.40 L665.40 26.10 L674.40 24.70 L684.00 22.90" fill="none" stroke="#ff00ff" stroke-width="1.35" stroke-linejoin="round"/>
<path d="M636.8 31.8L636.8 19.0" stroke="#ff00ff" stroke-width="1.3"/>
<path d="M364.00 59.70L367.20 54.26L360.80 54.26Z" fill="#ff00ff"/>
<path d="M372.95 66.49L376.15 61.05L369.75 61.05Z" fill="#ff00ff"/>
<path d="M381.90 72.25L385.10 66.81L378.70 66.81Z" fill="#ff00ff"/>
<path d="M390.87 75.69L394.07 70.25L387.67 70.25Z" fill="#ff00ff"/>
<path d="M399.85 80.29L403.05 74.85L396.65 74.85Z" fill="#ff00ff"/>
<path d="M408.85 85.09L412.05 79.65L405.65 79.65Z" fill="#ff00ff"/>
<path d="M417.87 88.55L421.07 83.11L414.67 83.11Z" fill="#ff00ff"/>
<path d="M426.91 92.26L430.11 86.82L423.71 86.82Z" fill="#ff00ff"/>
<path d="M435.99 96.41L439.19 90.97L432.79 90.97Z" fill="#ff00ff"/>
<path d="M445.09 100.57L448.29 95.13L441.89 95.13Z" fill="#ff00ff"/>
<path d="M454.22 104.68L457.42 99.24L451.02 99.24Z" fill="#ff00ff"/>
<path d="M463.38 108.96L466.58 103.52L460.18 103.52Z" fill="#ff00ff"/>
<path d="M472.57 113.26L475.77 107.82L469.37 107.82Z" fill="#ff00ff"/>
<path d="M481.78 117.84L484.98 112.40L478.58 112.40Z" fill="#ff00ff"/>
<path d="M491.01 123.84L494.21 118.40L487.81 118.40Z" fill="#ff00ff"/>
<path d="M500.26 133.56L503.46 128.12L497.06 128.12Z" fill="#ff00ff"/>
<path d="M509.52 148.93L512.72 143.49L506.32 143.49Z" fill="#ff00ff"/>
<path d="M518.79 155.44L521.99 150.00L515.59 150.00Z" fill="#ff00ff"/>
<path d="M528.06 131.35L531.26 125.91L524.86 125.91Z" fill="#ff00ff"/>
<path d="M537.33 117.34L540.53 111.90L534.13 111.90Z" fill="#ff00ff"/>
<path d="M546.59 104.35L549.79 98.91L543.39 98.91Z" fill="#ff00ff"/>
<path d="M555.84 91.10L559.04 85.66L552.64 85.66Z" fill="#ff00ff"/>
<path d="M565.07 78.81L568.27 73.37L561.87 73.37Z" fill="#ff00ff"/>
<path d="M574.28 68.24L577.48 62.80L571.08 62.80Z" fill="#ff00ff"/>
<path d="M583.47 59.83L586.67 54.39L580.27 54.39Z" fill="#ff00ff"/>
<path d="M592.63 53.78L595.83 48.34L589.43 48.34Z" fill="#ff00ff"/>
<path d="M601.76 47.71L604.96 42.27L598.56 42.27Z" fill="#ff00ff"/>
<path d="M610.86 43.05L614.06 37.61L607.66 37.61Z" fill="#ff00ff"/>
<path d="M619.94 39.01L623.14 33.57L616.74 33.57Z" fill="#ff00ff"/>
<path d="M628.98 37.08L632.18 31.64L625.78 31.64Z" fill="#ff00ff"/>
<path d="M638.00 34.94L641.20 29.50L634.80 29.50Z" fill="#ff00ff"/>
<path d="M647.00 32.00L650.20 26.56L643.80 26.56Z" fill="#ff00ff"/>
<path d="M655.98 30.67L659.18 25.23L652.78 25.23Z" fill="#ff00ff"/>
<path d="M664.95 29.37L668.15 23.93L661.75 23.93Z" fill="#ff00ff"/>
<path d="M673.90 27.98L677.10 22.54L670.70 22.54Z" fill="#ff00ff"/>
<path d="M682.85 26.32L686.05 20.88L679.65 20.88Z" fill="#ff00ff"/>
<path d="M364.00 50.50 L372.50 56.50 L381.50 60.00 L390.50 64.30 L399.50 68.40 L408.60 72.50 L418.00 77.00 L427.00 81.50 L436.30 85.60 L445.50 89.50 L454.70 93.90 L463.90 98.30 L473.30 103.10 L482.30 108.70 L491.50 117.40 L501.00 128.70 L505.50 142.00 L508.80 163.50 L509.00 190.00 L509.00 217.00 L509.60 217.00 L510.20 190.00 L512.00 165.00 L514.50 140.00 L518.70 125.00 L527.80 111.20 L537.00 100.30 L546.20 90.30 L555.30 81.00 L564.50 73.20 L574.00 67.00 L583.00 61.60 L592.40 56.80 L601.50 52.00 L610.50 47.00 L619.50 43.90 L628.90 40.90 L638.20 37.90 L647.50 35.00 L656.50 33.70 L665.40 32.20 L674.40 30.10 L684.00 28.30" fill="none" stroke="#00805a" stroke-width="1.35" stroke-linejoin="round"/>
<path d="M508.80 160.40L512.15 163.50L508.80 166.60L505.45 163.50Z" fill="#008000"/>
<path d="M364.00 47.40L367.35 50.50L364.00 53.60L360.65 50.50Z" fill="#008000"/>
<path d="M372.95 53.57L376.30 56.67L372.95 59.77L369.60 56.67Z" fill="#008000"/>
<path d="M381.90 57.09L385.25 60.19L381.90 63.29L378.56 60.19Z" fill="#008000"/>
<path d="M390.87 61.37L394.22 64.47L390.87 67.57L387.52 64.47Z" fill="#008000"/>
<path d="M399.85 65.46L403.20 68.56L399.85 71.66L396.50 68.56Z" fill="#008000"/>
<path d="M408.85 69.52L412.19 72.62L408.85 75.72L405.50 72.62Z" fill="#008000"/>
<path d="M417.87 73.84L421.22 76.94L417.87 80.04L414.52 76.94Z" fill="#008000"/>
<path d="M426.91 78.36L430.26 81.46L426.91 84.56L423.57 81.46Z" fill="#008000"/>
<path d="M435.99 82.36L439.34 85.46L435.99 88.56L432.64 85.46Z" fill="#008000"/>
<path d="M445.09 86.23L448.44 89.33L445.09 92.43L441.74 89.33Z" fill="#008000"/>
<path d="M454.22 90.57L457.57 93.67L454.22 96.77L450.87 93.67Z" fill="#008000"/>
<path d="M463.38 94.95L466.73 98.05L463.38 101.15L460.03 98.05Z" fill="#008000"/>
<path d="M472.57 99.63L475.92 102.73L472.57 105.83L469.22 102.73Z" fill="#008000"/>
<path d="M481.78 105.28L485.13 108.38L481.78 111.48L478.43 108.38Z" fill="#008000"/>
<path d="M491.01 113.84L494.36 116.94L491.01 120.04L487.66 116.94Z" fill="#008000"/>
<path d="M500.26 124.72L503.61 127.82L500.26 130.92L496.91 127.82Z" fill="#008000"/>
<path d="M518.79 121.76L522.14 124.86L518.79 127.96L515.44 124.86Z" fill="#008000"/>
<path d="M528.06 107.79L531.41 110.89L528.06 113.99L524.71 110.89Z" fill="#008000"/>
<path d="M537.33 96.84L540.68 99.94L537.33 103.04L533.98 99.94Z" fill="#008000"/>
<path d="M546.59 86.80L549.94 89.90L546.59 93.00L543.24 89.90Z" fill="#008000"/>
<path d="M555.84 77.44L559.19 80.54L555.84 83.64L552.49 80.54Z" fill="#008000"/>
<path d="M565.07 69.73L568.42 72.83L565.07 75.93L561.72 72.83Z" fill="#008000"/>
<path d="M574.28 63.73L577.63 66.83L574.28 69.93L570.93 66.83Z" fill="#008000"/>
<path d="M583.47 58.26L586.82 61.36L583.47 64.46L580.12 61.36Z" fill="#008000"/>
<path d="M592.63 53.58L595.98 56.68L592.63 59.78L589.28 56.68Z" fill="#008000"/>
<path d="M601.76 48.76L605.11 51.86L601.76 54.96L598.41 51.86Z" fill="#008000"/>
<path d="M610.86 43.78L614.21 46.88L610.86 49.98L607.51 46.88Z" fill="#008000"/>
<path d="M619.94 40.66L623.28 43.76L619.94 46.86L616.59 43.76Z" fill="#008000"/>
<path d="M628.98 37.77L632.33 40.87L628.98 43.97L625.63 40.87Z" fill="#008000"/>
<path d="M638.00 34.86L641.35 37.96L638.00 41.06L634.66 37.96Z" fill="#008000"/>
<path d="M647.00 32.06L650.35 35.16L647.00 38.26L643.65 35.16Z" fill="#008000"/>
<path d="M655.98 30.67L659.33 33.77L655.98 36.87L652.63 33.77Z" fill="#008000"/>
<path d="M664.95 29.18L668.29 32.28L664.95 35.38L661.60 32.28Z" fill="#008000"/>
<path d="M673.90 27.12L677.25 30.22L673.90 33.32L670.55 30.22Z" fill="#008000"/>
<path d="M682.85 25.42L686.20 28.52L682.85 31.62L679.50 28.52Z" fill="#008000"/>
</g>
<rect x="363.0" y="0.5" width="320.60" height="224.30" fill="none" stroke="#000" stroke-width="1.5"/>
<path d="M363.00 224.80V220.60" stroke="#000" stroke-width="1.3"/>
<path d="M408.95 224.80V222.60" stroke="#000" stroke-width="1.3"/>
<path d="M454.90 224.80V220.60" stroke="#000" stroke-width="1.3"/>
<path d="M500.85 224.80V222.60" stroke="#000" stroke-width="1.3"/>
<path d="M546.80 224.80V220.60" stroke="#000" stroke-width="1.3"/>
<path d="M592.75 224.80V222.60" stroke="#000" stroke-width="1.3"/>
<path d="M638.70 224.80V220.60" stroke="#000" stroke-width="1.3"/>
<path d="M684.65 224.80V222.60" stroke="#000" stroke-width="1.3"/>
<path d="M363.00 207.56H365.50" stroke="#000" stroke-width="1.3"/>
<path d="M363.00 172.49H368.00" stroke="#000" stroke-width="1.3"/>
<path d="M363.00 137.42H365.50" stroke="#000" stroke-width="1.3"/>
<path d="M363.00 102.35H368.00" stroke="#000" stroke-width="1.3"/>
<path d="M363.00 67.28H365.50" stroke="#000" stroke-width="1.3"/>
<path d="M363.00 32.21H368.00" stroke="#000" stroke-width="1.3"/>
<text x="31.60" y="235.00" font-family="'Liberation Serif', serif" font-weight="bold" font-size="13.2" text-anchor="middle">-800</text>
<text x="120.08" y="235.00" font-family="'Liberation Serif', serif" font-weight="bold" font-size="13.2" text-anchor="middle">-600</text>
<text x="208.56" y="235.00" font-family="'Liberation Serif', serif" font-weight="bold" font-size="13.2" text-anchor="middle">-400</text>
<text x="297.04" y="235.00" font-family="'Liberation Serif', serif" font-weight="bold" font-size="13.2" text-anchor="middle">-200</text>
<text x="24.90" y="36.10" font-family="'Liberation Serif', serif" font-weight="bold" font-size="12.4" text-anchor="end">2</text>
<text x="24.90" y="105.10" font-family="'Liberation Serif', serif" font-weight="bold" font-size="12.4" text-anchor="end">0</text>
<text x="24.90" y="174.10" font-family="'Liberation Serif', serif" font-weight="bold" font-size="12.4" text-anchor="end">-2</text>
<text x="367.10" y="236.00" font-family="'Liberation Serif', serif" font-weight="bold" font-size="13.4" text-anchor="middle">-800</text>
<text x="459.00" y="236.00" font-family="'Liberation Serif', serif" font-weight="bold" font-size="13.4" text-anchor="middle">-600</text>
<text x="550.90" y="236.00" font-family="'Liberation Serif', serif" font-weight="bold" font-size="13.4" text-anchor="middle">-400</text>
<text x="642.80" y="236.00" font-family="'Liberation Serif', serif" font-weight="bold" font-size="13.4" text-anchor="middle">-200</text>
<text x="361.10" y="35.41" font-family="'Liberation Serif', serif" font-weight="bold" font-size="12.9" text-anchor="end">2</text>
<text x="361.10" y="105.55" font-family="'Liberation Serif', serif" font-weight="bold" font-size="12.9" text-anchor="end">0</text>
<text x="361.10" y="175.69" font-family="'Liberation Serif', serif" font-weight="bold" font-size="12.9" text-anchor="end">-2</text>
<text x="173" y="247.3" font-family="'Liberation Serif', serif" font-weight="bold" font-size="13.1" text-anchor="middle">E (mV/SCE)</text>
<text x="513.8" y="247.3" font-family="'Liberation Serif', serif" font-weight="bold" font-size="13.5" text-anchor="middle">E (mV/SCE)</text>
<text transform="translate(16,107.4) rotate(-90)" font-family="'Liberation Serif', serif" font-weight="bold" font-size="11.75" text-anchor="middle">log i (mA/cm<tspan dy="-3.2" font-size="8.3">2</tspan><tspan dy="3.2">)</tspan></text>
<text transform="translate(350.5,108.7) rotate(-90)" font-family="'Liberation Serif', serif" font-weight="bold" font-size="11.85" text-anchor="middle">log i (mA/cm<tspan dy="-3.2" font-size="8.4">2</tspan><tspan dy="3.2">)</tspan></text>
<text x="125.6" y="20.2" font-family="'Liberation Serif', serif" font-weight="bold" font-style="italic" font-size="14.7" letter-spacing="1.0">Tetra-Pz-Ortho</text>
<rect x="125" y="21.1" width="104.5" height="1.5" fill="#000"/>
<text x="487.6" y="18.2" font-family="'Liberation Serif', serif" font-weight="bold" font-style="italic" font-size="15.8" letter-spacing="0.72">Tetra-Pz-Para</text>
<rect x="486.8" y="19.1" width="99.2" height="1.5" fill="#000"/>
<path d="M245 134.60H276" stroke="#000000" stroke-width="1.3"/>
<rect x="258.50" y="132.60" width="4.00" height="4.00" fill="#000000"/>
<text x="278.9" y="139.60" font-family="'Liberation Serif', serif" font-size="13.2" letter-spacing="0.55">1M HCl</text>
<path d="M245 151.00H276" stroke="#ff0000" stroke-width="1.3"/>
<circle cx="260.50" cy="151.00" r="2.30" fill="#ff0000"/>
<text x="278.9" y="156.00" font-family="'Liberation Serif', serif" font-size="13.2" letter-spacing="0.55">10<tspan dy="-5" font-size="7.4" letter-spacing="0.1">-3</tspan><tspan dy="5" letter-spacing="0.2"> M</tspan></text>
<path d="M245 167.40H276" stroke="#0000ff" stroke-width="1.3"/>
<path d="M260.50 164.40L263.50 169.50L257.50 169.50Z" fill="#0000ff"/>
<text x="278.9" y="172.40" font-family="'Liberation Serif', serif" font-size="13.2" letter-spacing="0.55">10<tspan dy="-5" font-size="7.4" letter-spacing="0.1">-4</tspan><tspan dy="5" letter-spacing="0.2"> M</tspan></text>
<path d="M245 183.80H276" stroke="#008080" stroke-width="1.3"/>
<path d="M260.50 186.80L263.50 181.70L257.50 181.70Z" fill="#008080"/>
<text x="278.9" y="188.80" font-family="'Liberation Serif', serif" font-size="13.2" letter-spacing="0.55">10<tspan dy="-5" font-size="7.4" letter-spacing="0.1">-5</tspan><tspan dy="5" letter-spacing="0.2"> M</tspan></text>
<path d="M245 200.20H276" stroke="#ff8000" stroke-width="1.3"/>
<path d="M260.50 197.30L263.63 200.20L260.50 203.10L257.37 200.20Z" fill="#ff8000"/>
<text x="278.9" y="205.20" font-family="'Liberation Serif', serif" font-size="13.2" letter-spacing="0.55">10<tspan dy="-5" font-size="7.4" letter-spacing="0.1">-6</tspan><tspan dy="5" letter-spacing="0.2"> M</tspan></text>
<path d="M595.5 133.80H626.5" stroke="#000000" stroke-width="1.3"/>
<rect x="609.00" y="131.80" width="4.00" height="4.00" fill="#000000"/>
<text x="629.6" y="138.80" font-family="'Liberation Serif', serif" font-size="13.2" letter-spacing="0.55">1M HCl</text>
<path d="M595.5 150.15H626.5" stroke="#ff0000" stroke-width="1.3"/>
<circle cx="611.00" cy="150.15" r="2.30" fill="#ff0000"/>
<text x="629.6" y="155.15" font-family="'Liberation Serif', serif" font-size="13.2" letter-spacing="0.55">10<tspan dy="-5" font-size="7.4" letter-spacing="0.1">-3</tspan><tspan dy="5" letter-spacing="0.2"> M</tspan></text>
<path d="M595.5 166.50H626.5" stroke="#0000ff" stroke-width="1.3"/>
<path d="M611.00 163.50L614.00 168.60L608.00 168.60Z" fill="#0000ff"/>
<text x="629.6" y="171.50" font-family="'Liberation Serif', serif" font-size="13.2" letter-spacing="0.55">10<tspan dy="-5" font-size="7.4" letter-spacing="0.1">-4</tspan><tspan dy="5" letter-spacing="0.2"> M</tspan></text>
<path d="M595.5 182.85H626.5" stroke="#ff00ff" stroke-width="1.3"/>
<path d="M611.00 185.85L614.00 180.75L608.00 180.75Z" fill="#ff00ff"/>
<text x="629.6" y="187.85" font-family="'Liberation Serif', serif" font-size="13.2" letter-spacing="0.55">10<tspan dy="-5" font-size="7.4" letter-spacing="0.1">-5</tspan><tspan dy="5" letter-spacing="0.2"> M</tspan></text>
<path d="M595.5 199.20H626.5" stroke="#00805a" stroke-width="1.3"/>
<path d="M611.00 196.30L614.13 199.20L611.00 202.10L607.87 199.20Z" fill="#008000"/>
<text x="629.6" y="204.20" font-family="'Liberation Serif', serif" font-size="13.2" letter-spacing="0.55">10<tspan dy="-5" font-size="7.4" letter-spacing="0.1">-6</tspan><tspan dy="5" letter-spacing="0.2"> M</tspan></text>
</svg>
</body></html>
